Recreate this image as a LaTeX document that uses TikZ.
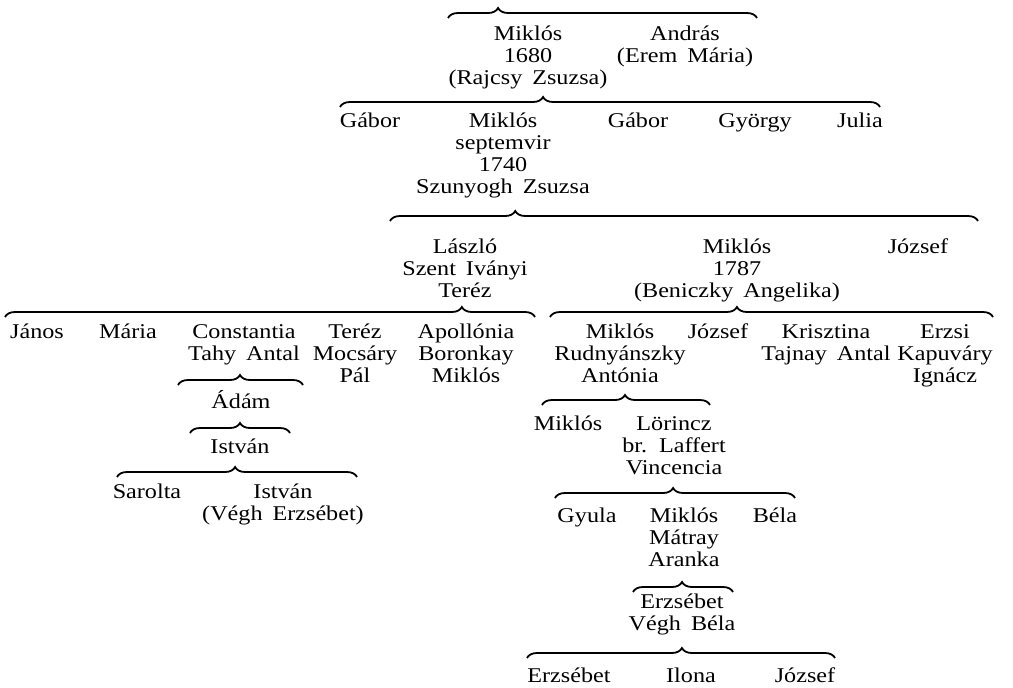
\documentclass[tikz,border=0pt]{standalone}
\usepackage{fontspec}
\setmainfont{Liberation Serif}[FakeStretch=1.15]
\usetikzlibrary{decorations.pathreplacing}
\newcommand{\genfont}{\fontsize{21}{22}\selectfont\spaceskip=10pt plus 2pt\relax}
\newcommand{\fl}{\rule{0pt}{17pt}}
\begin{document}
\begin{tikzpicture}[x=1pt,y=-1pt,
  person/.style={align=center, inner sep=0pt, anchor=north, yshift=17pt,
    font={\genfont}},
  brc/.style={decorate, decoration={brace, amplitude=10pt, aspect=#1}, line width=1.8pt}]
\useasboundingbox[fill=white] (0,0) rectangle (1013,688);

% level 1
\node[person] (miklos1680) at (528,40) {\fl Miklós\\1680\\(Rajcsy Zsuzsa)};
\node[person] (andras) at (685,40) {\fl András\\(Erem Mária)};
% level 2
\node[person] (gabor1) at (370,127) {\fl Gábor};
\node[person] (miklossept) at (503,127) {\fl Miklós\\septemvir\\1740\\Szunyogh Zsuzsa};
\node[person] (gabor2) at (638,127) {\fl Gábor};
\node[person] (gyorgy) at (755,127) {\fl György};
\node[person] (julia) at (860,127) {\fl Julia};
% level 3
\node[person] (laszlo) at (465,253) {\fl László\\Szent Iványi\\Teréz};
\node[person] (miklos1787) at (737,253) {\fl Miklós\\1787\\(Beniczky Angelika)};
\node[person] (jozsef1) at (918,253) {\fl József};
% level 4 left
\node[person] (janos) at (37,338) {\fl János};
\node[person] (maria) at (128,338) {\fl Mária};
\node[person] (constantia) at (244,338) {\fl Constantia\\Tahy Antal};
\node[person] (terez) at (355,338) {\fl Teréz\\Mocsáry\\Pál};
\node[person] (apollonia) at (466,338) {\fl Apollónia\\Boronkay\\Miklós};
% level 4 right
\node[person] (miklosrud) at (620,338) {\fl Miklós\\Rudnyánszky\\Antónia};
\node[person] (jozsef2) at (718,338) {\fl József};
\node[person] (krisztina) at (826,338) {\fl Krisztina\\Tajnay Antal};
\node[person] (erzsi) at (945,338) {\fl Erzsi\\Kapuváry\\Ignácz};
% Constantia line
\node[person] (adam) at (241,407) {\fl Ádám};
\node[person] (istvan1) at (240,453) {\fl István};
\node[person] (sarolta) at (147,498) {\fl Sarolta};
\node[person] (istvan2) at (283,498) {\fl István\\(Végh Erzsébet)};
% Miklós Rudnyánszky line
\node[person] (miklos3) at (568,430) {\fl Miklós};
\node[person] (lorincz) at (674,430) {\fl Lörincz\\br. Laffert\\Vincencia};
\node[person] (gyula) at (587,522) {\fl Gyula};
\node[person] (miklosmatray) at (684,522) {\fl Miklós\\Mátray\\Aranka};
\node[person] (bela) at (775,522) {\fl Béla};
\node[person] (erzsebet1) at (682,608) {\fl Erzsébet\\Végh Béla};
\node[person] (erzsebet2) at (569,682) {\fl Erzsébet};
\node[person] (ilona) at (691,682) {\fl Ilona};
\node[person] (jozsef3) at (805,682) {\fl József};

% brace end points
\coordinate (b1l) at (448,18);  \coordinate (b1r) at (757,18);
\coordinate (b2l) at (340,107); \coordinate (b2r) at (880,107);
\coordinate (b3l) at (390,221); \coordinate (b3r) at (978,221);
\coordinate (b4l) at (5,317);   \coordinate (b4r) at (535,317);
\coordinate (b5l) at (550,317); \coordinate (b5r) at (993,317);
\coordinate (b6l) at (178,385); \coordinate (b6r) at (303,385);
\coordinate (b7l) at (190,433); \coordinate (b7r) at (290,433);
\coordinate (b8l) at (117,477); \coordinate (b8r) at (357,477);
\coordinate (b9l) at (542,405); \coordinate (b9r) at (710,405);
\coordinate (b10l) at (555,498); \coordinate (b10r) at (795,498);
\coordinate (b11l) at (633,592); \coordinate (b11r) at (733,592);
\coordinate (b12l) at (527,658); \coordinate (b12r) at (835,658);

\draw[brc=0.162] (b1l) -- (b1r);
\draw[brc=0.376] (b2l) -- (b2r);
\draw[brc=0.213] (b3l) -- (b3r);
\draw[brc=0.862] (b4l) -- (b4r);
\draw[brc=0.422] (b5l) -- (b5r);
\draw[brc=0.496] (b6l) -- (b6r);
\draw[brc=0.5]   (b7l) -- (b7r);
\draw[brc=0.492] (b8l) -- (b8r);
\draw[brc=0.494] (b9l) -- (b9r);
\draw[brc=0.492] (b10l) -- (b10r);
\draw[brc=0.49]  (b11l) -- (b11r);
\draw[brc=0.503] (b12l) -- (b12r);
\end{tikzpicture}
\end{document}
